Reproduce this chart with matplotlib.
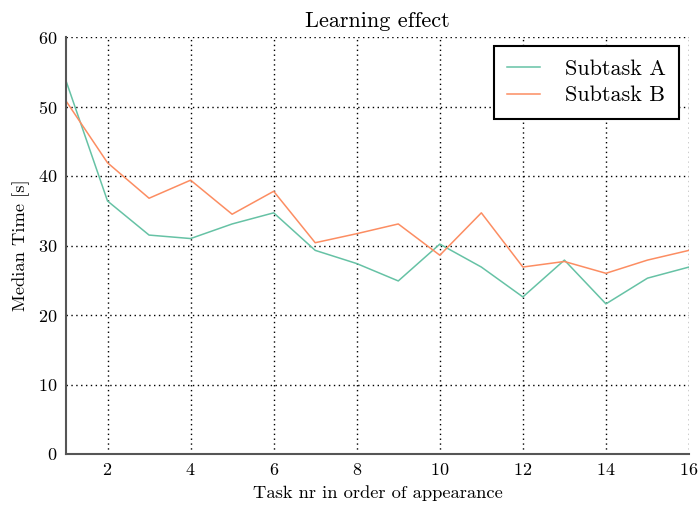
import matplotlib
matplotlib.use("Agg")
import matplotlib.pyplot as plt

tasks = list(range(1, 17))
subtask_a = [53.7, 36.4, 31.5, 31.0, 33.1, 34.7, 29.3, 27.4, 24.9, 30.2, 26.9, 22.6, 27.9, 21.6, 25.3, 26.9]
subtask_b = [50.8, 41.9, 36.8, 39.4, 34.5, 37.8, 30.4, 31.7, 33.1, 28.6, 34.7, 26.9, 27.7, 26.0, 27.9, 29.3]
xticks = [2, 4, 6, 8, 10, 12, 14, 16]
yticks = [0, 10, 20, 30, 40, 50, 60]

plt.rcParams['font.family'] = 'serif'
plt.rcParams['font.serif'] = ['cmr10', 'DejaVu Serif']
plt.rcParams['axes.formatter.use_mathtext'] = True
plt.rcParams['mathtext.fontset'] = 'cm'

fig = plt.figure(figsize=(6.99, 5.05), dpi=100)
ax = fig.add_axes([66/699, 51/505, 623/699, 417/505])

ax.plot(tasks, subtask_a, color='#66c2a5', lw=1.1, label='Subtask A')
ax.plot(tasks, subtask_b, color='#fc8d62', lw=1.1, label='Subtask B')

ax.set_xlim(1, 16)
ax.set_ylim(0, 60)
ax.set_xticks(xticks)
ax.set_yticks(yticks)
ax.grid(True, color='black', linestyle=(0, (1, 2.5)), lw=1.0)
for s in ['top', 'right']:
    ax.spines[s].set_visible(False)
for s in ['left', 'bottom']:
    ax.spines[s].set_color('#555555')
    ax.spines[s].set_linewidth(1.5)
ax.tick_params(length=0, labelsize=13, pad=6)

ax.set_title('Learning effect', fontsize=16, pad=7)
ax.set_xlabel('Task nr in order of appearance', fontsize=13.3, labelpad=5)
ax.set_ylabel('Median Time [s]', fontsize=13.3, labelpad=6)

leg = ax.legend(loc='upper right', fontsize=16, fancybox=False, framealpha=1,
                edgecolor='black', handlelength=1.5, borderpad=0.6, handletextpad=1.1,
                labelspacing=0.3, borderaxespad=0, bbox_to_anchor=(0.984, 0.978))
leg.get_frame().set_linewidth(1.5)

fig.savefig('out.png', dpi=100)
